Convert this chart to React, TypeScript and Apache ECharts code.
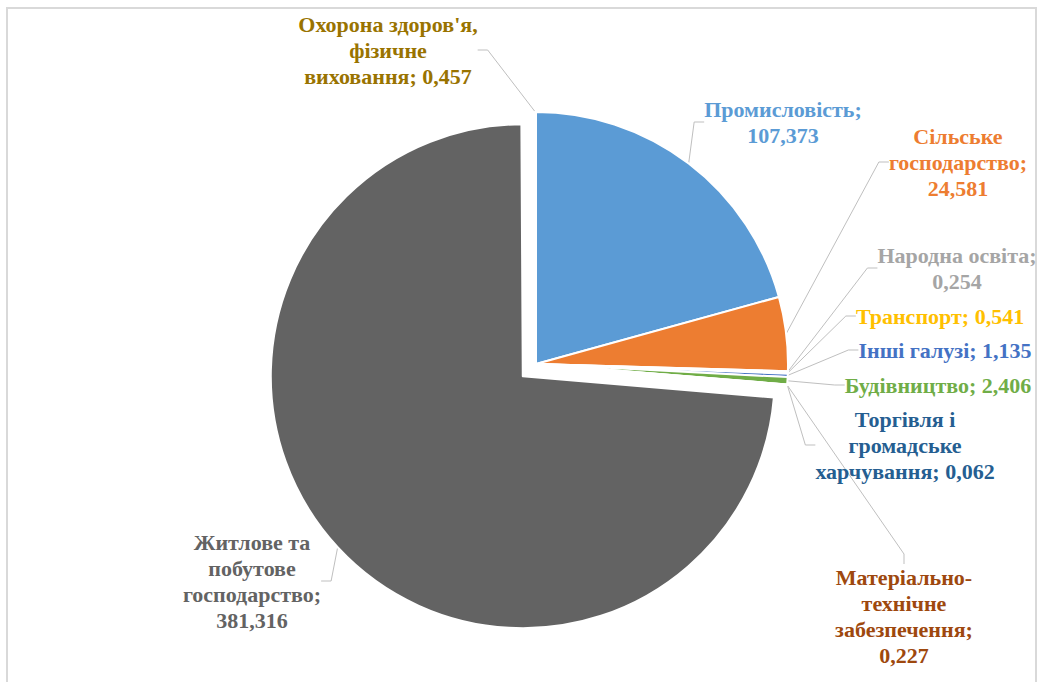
import React, { useEffect, useRef } from "react";
import * as echarts from "echarts";

// ---- data ----
const categories: string[] = [
  "Промисловість",
  "Сільське\nгосподарство",
  "Народна освіта",
  "Транспорт",
  "Інші галузі",
  "Будівництво",
  "Торгівля і\nгромадське\nхарчування",
  "Матеріально-\nтехнічне\nзабезпечення",
  "Житлове та\nпобутове\nгосподарство",
  "Охорона здоров'я,\nфізичне\nвиховання",
];
const values: number[] = [107.373, 24.581, 0.254, 0.541, 1.135, 2.406, 0.062, 0.227, 381.316, 0.457];
const valueOnNewLine: boolean[] = [true, true, true, false, false, false, false, true, true, false];
const explodedIndex = 8; // Житлове та побутове господарство

// ---- styles / layout ----
const colors: string[] = [
  "#5B9BD5", "#ED7D31", "#A5A5A5", "#FFC000", "#4472C4",
  "#70AD47", "#255E91", "#9E480E", "#636363", "#997300",
];
// label block centres (x, y)
const labelCentres: [number, number][] = [
  [783, 122],
  [958, 162],
  [957, 268],
  [940, 316],
  [945, 350],
  [938, 385],
  [905, 445],
  [904, 616],
  [252, 581],
  [388, 50],
];
const pieCenter: [number, number] = [536, 364];
const pieRadius = 252;
const explodeDistance = 18;

function fmt(v: number): string {
  return v.toFixed(3).replace(".", ",");
}

export default function App() {
  const ref = useRef<HTMLDivElement>(null);
  useEffect(() => {
    if (!ref.current) return;
    const chart = echarts.init(ref.current, undefined, { renderer: "svg" });

    // mid-angle of the exploded slice (clockwise from 12 o'clock)
    const total = values.reduce((a, b) => a + b, 0);
    const before = values.slice(0, explodedIndex).reduce((a, b) => a + b, 0);
    const mid = (2 * Math.PI * (before + values[explodedIndex] / 2)) / total;
    const explodedCenter = [
      pieCenter[0] + explodeDistance * Math.sin(mid),
      pieCenter[1] - explodeDistance * Math.cos(mid),
    ];

    const hidden = {
      itemStyle: { color: "rgba(0,0,0,0)", borderColor: "rgba(0,0,0,0)", borderWidth: 0 },
      label: { show: false },
      labelLine: { show: false },
    };

    const mainData = categories.map((name, i) =>
      i === explodedIndex
        ? { name, value: values[i], ...hidden }
        : { name, value: values[i], itemStyle: { color: colors[i] }, label: { color: colors[i] } }
    );
    const explodedData = categories.map((name, i) =>
      i === explodedIndex
        ? { name, value: values[i], itemStyle: { color: colors[i] }, label: { color: colors[i] } }
        : { name, value: values[i], ...hidden }
    );

    const common = {
      type: "pie",
      radius: pieRadius,
      startAngle: 90,
      clockwise: true,
      avoidLabelOverlap: false,
      itemStyle: { borderColor: "#ffffff", borderWidth: 2 },
      emphasis: { disabled: true },
      label: {
        show: true,
        position: "outside",
        fontFamily: "Liberation Serif",
        fontWeight: "bold",
        fontSize: 22,
        lineHeight: 26,
        align: "center",
        formatter: (p: any) =>
          p.name + ";" + (valueOnNewLine[p.dataIndex] ? "\n" : " ") + fmt(p.value),
      },
      labelLine: {
        show: true,
        length: 10,
        length2: 10,
        lineStyle: { color: "#bfbfbf", width: 1 },
      },
      labelLayout: (params: any) => {
        const c = labelCentres[params.dataIndex];
        return { x: c[0], y: c[1], align: "center", verticalAlign: "middle" };
      },
    };

    chart.setOption({
      animation: false,
      backgroundColor: "#ffffff",
      graphic: [
        {
          type: "rect",
          shape: { x: 7, y: 8, width: 1029, height: 690 },
          style: { fill: "none", stroke: "#d9d9d9", lineWidth: 2 },
          silent: true,
        },
      ],
      series: [
        { ...common, name: "main", center: pieCenter, data: mainData },
        { ...common, name: "exploded", center: explodedCenter, data: explodedData },
      ],
    });
    return () => chart.dispose();
  }, []);
  return (
    <div
      ref={ref}
      style={{ position: "fixed", left: 0, top: 0, width: 1037, height: 682 }}
    />
  );
}
